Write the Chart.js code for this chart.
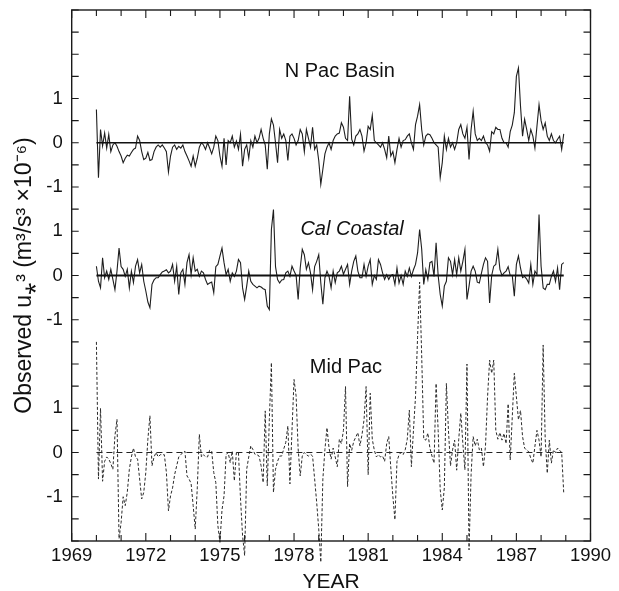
<!DOCTYPE html>
<html><head><meta charset="utf-8">
<script src="https://cdn.jsdelivr.net/npm/chart.js@4/dist/chart.umd.min.js"></script>
<style>html,body{margin:0;padding:0;background:#fff;}#wrap{width:619px;height:591px;}</style>
</head><body><div id="wrap"><canvas id="c" width="619" height="591"></canvas></div>
<script>
// ---------- DATA (monthly, Jan 1970 - Dec 1988) ----------
const startYear = 1970;
const nPacBasin = [
 0.75,-0.79,0.3,-0.07,0.22,-0.12,0.19,-0.2,-0.05,0.0,-0.08,-0.2,
 -0.3,-0.45,-0.35,-0.28,-0.3,-0.22,-0.15,-0.12,0.15,0.05,-0.2,-0.38,
 -0.35,-0.22,-0.4,-0.38,-0.2,-0.1,-0.05,-0.1,-0.05,-0.12,-0.2,-0.66,
 -0.3,-0.1,-0.05,-0.15,-0.08,-0.12,-0.05,-0.2,-0.3,-0.41,-0.53,-0.3,
 -0.53,-0.35,-0.1,0.0,-0.05,-0.15,0.0,-0.12,-0.25,-0.1,0.15,0.05,
 -0.3,-0.53,0.1,-0.5,0.05,0.0,0.15,-0.1,0.04,-0.15,0.19,-0.53,
 -0.15,-0.05,-0.35,0.05,-0.1,0.15,0.0,0.1,0.3,0.1,-0.05,-0.6,
 0.2,0.54,0.4,0.0,-0.45,0.3,0.1,0.2,0.05,-0.4,0.15,0.2,
 0.1,-0.05,0.05,0.3,0.2,-0.2,0.3,0.1,-0.1,0.35,-0.15,-0.05,
 -0.4,-0.94,-0.6,-0.25,-0.1,0.0,-0.15,0.05,0.15,0.2,0.22,0.45,
 0.35,0.1,0.05,1.05,0.08,-0.05,0.15,0.2,0.3,0.15,-0.19,0.0,
 0.37,0.3,0.62,0.05,0.0,-0.05,-0.1,0.0,-0.15,-0.34,0.15,-0.3,
 -0.2,-0.45,-0.15,0.1,-0.1,0.05,0.07,0.15,0.2,0.0,-0.15,0.41,
 0.6,0.86,0.3,-0.05,0.15,0.2,0.18,0.1,0.0,-0.05,-0.1,-0.79,
 -0.45,0.15,-0.15,0.1,-0.1,0.0,-0.15,0.0,0.3,0.41,0.2,0.1,
 0.35,-0.38,0.3,0.71,0.2,0.05,0.1,0.05,0.15,0.0,-0.05,-0.19,
 0.25,0.2,0.35,0.3,0.3,0.1,0.0,0.0,-0.1,0.25,0.4,0.68,
 1.5,1.69,0.83,0.15,0.53,0.3,0.05,0.3,0.15,-0.12,0.38,0.86,
 0.5,0.3,0.45,0.15,0.05,0.2,0.05,0.0,0.08,0.15,-0.15,0.2
];
const calCoastal = [
 0.21,-0.13,-0.28,0.4,-0.05,0.1,-0.09,0.14,-0.09,-0.32,0.1,0.62,
 0.2,0.14,-0.02,0.14,-0.28,0.1,-0.16,0.21,0.36,0.06,0.25,-0.13,
 -0.35,-0.6,-0.73,-0.2,-0.1,-0.05,-0.05,0.02,0.08,0.1,0.13,0.06,
 0.1,0.25,-0.13,0.21,-0.43,0.06,0.14,-0.2,0.29,0.47,0.02,0.4,
 0.1,0.14,-0.02,0.1,0.06,-0.09,-0.2,-0.17,-0.15,-0.39,0.2,0.25,
 0.44,0.62,0.29,0.02,0.14,-0.13,0.06,-0.02,0.1,0.36,0.29,-0.28,
 -0.54,-0.24,0.1,-0.13,-0.2,-0.24,-0.28,-0.24,-0.26,-0.3,-0.32,-0.69,
 -0.77,1.04,1.49,0.2,-0.09,-0.17,-0.1,-0.09,0.06,0.1,-0.02,0.21,
 0.1,0.0,-0.54,0.17,0.59,0.47,0.14,0.29,0.06,-0.32,0.2,0.32,
 0.47,-0.17,-0.65,-0.05,0.1,-0.02,-0.28,0.1,-0.16,0.06,0.1,0.21,
 0.03,0.14,0.25,-0.2,0.1,0.32,0.44,0.1,-0.05,-0.05,0.25,-0.02,
 0.21,0.36,-0.2,0.0,-0.09,0.36,0.25,0.06,-0.09,0.02,-0.09,0.0,
 0.02,-0.2,0.17,-0.17,0.0,-0.2,0.1,-0.02,0.17,-0.02,0.13,0.25,
 0.51,1.04,0.6,-0.2,0.13,-0.09,0.29,0.32,-0.02,0.74,0.0,-0.43,
 -0.69,-0.24,-0.13,0.4,0.32,0.02,0.36,0.02,0.4,0.1,0.32,0.59,
 -0.54,-0.24,0.1,0.21,0.1,-0.15,-0.17,0.05,0.25,0.4,0.32,-0.62,
 0.0,0.21,0.25,0.59,0.14,0.0,0.06,0.1,0.2,0.0,0.0,-0.47,
 0.25,0.44,0.17,-0.05,-0.02,-0.08,-0.17,0.25,-0.2,0.1,0.02,1.38,
 0.21,-0.28,-0.32,-0.2,-0.2,-0.02,0.1,-0.13,0.17,-0.32,0.25,0.29
];
const midPac = [
 2.5,-0.6,1.0,-0.65,-0.2,-0.1,-0.15,-0.25,-0.38,0.38,0.75,-1.95,
 -1.58,-1.0,-1.2,-0.9,-0.38,-0.1,0.1,-0.1,-0.15,-0.6,-1.05,-0.9,
 -0.45,0.3,0.83,-0.3,-0.1,0.0,-0.1,-0.05,-0.05,-0.05,-0.45,-1.32,
 -0.98,-0.8,-0.5,-0.3,-0.1,-0.05,0.0,0.03,-0.53,-0.6,-0.7,-1.2,
 -1.73,-0.8,0.41,-0.1,-0.05,-0.1,-0.1,0.05,0.03,-0.45,-0.68,-1.65,
 -2.03,-1.3,-0.98,-0.05,0.0,-0.23,0.03,-0.64,0.0,0.0,-1.05,-1.88,
 -2.33,-0.38,-0.1,0.15,0.07,-0.04,-0.05,-0.08,-0.3,-0.68,0.94,-0.75,
 0.75,2.03,-0.9,-0.38,-0.2,-0.08,-0.08,0.08,0.23,0.6,-0.71,0.5,
 1.65,1.28,0.08,-0.53,-0.08,0.0,-0.05,-0.08,-0.04,-0.08,-0.6,-1.13,
 -1.73,-2.48,-0.6,0.07,0.56,0.1,-0.15,0.1,-0.1,-0.32,0.3,0.2,
 0.5,1.49,-0.77,0.2,0.05,0.25,0.35,0.45,0.15,0.4,0.74,1.49,
 -0.5,1.34,0.3,0.05,-0.1,-0.05,-0.1,-0.08,-0.2,0.2,0.36,-0.35,
 -0.99,-1.52,-0.2,-0.05,0.0,-0.05,0.06,0.3,0.96,-0.32,0.5,1.26,
 2.6,3.85,2.2,0.3,0.28,0.44,0.1,-0.08,-0.24,1.56,0.5,-0.84,
 -1.3,-0.8,1.56,0.5,-0.3,0.06,0.28,-0.4,0.3,0.89,0.2,-0.39,
 2.0,-2.2,-0.5,0.36,0.15,0.3,0.06,0.1,-0.32,0.15,1.26,2.09,
 1.79,2.09,0.5,0.3,0.45,0.28,0.43,0.2,1.1,-0.17,0.8,1.79,
 1.26,0.74,0.95,0.36,0.1,0.05,0.02,-0.13,-0.24,0.14,0.5,0.28,
 -0.1,2.43,0.3,-0.47,0.28,-0.24,0.06,0.0,0.1,0.05,0.0,-0.92
];
const panelNames = ['N Pac Basin', 'Cal Coastal', 'Mid Pac'];
const panelBaselines = [7, 4, 0];          // zero of each panel on the shared y axis
const xTickLabels = ['1969','1972','1975','1978','1981','1984','1987','1990'];
const yTickLabels = ['-1','0','1'];
const xTitle = 'YEAR';
const yTitle = 'Observed u\u204E\u00B3 (m\u00B3/s\u00B3 \u00D710\u207B\u2076)';

// ---------- presentation ----------
const labelAnchors = [[1979.85, 8.62], [1980.35, 5.04], [1980.1, 1.93]]; // (year, shared-axis value)
const labelItalic = [false, true, false];
const FONT = '"Liberation Sans", Arial, sans-serif';

function toPoints(arr, base) {
  return arr.map((v, i) => ({x: startYear + i / 12, y: v + base}));
}
function zeroLine(base, n) {
  return [{x: startYear, y: base}, {x: startYear + (n - 1) / 12, y: base}];
}

const frameTicks = {
  id: 'frameTicks',
  afterDraw(chart) {
    const {ctx, chartArea: a, scales: {x, y}} = chart;
    ctx.save();
    ctx.strokeStyle = '#1a1a1a';
    ctx.lineWidth = 1.4;
    ctx.strokeRect(a.left, a.top, a.right - a.left, a.bottom - a.top);
    ctx.lineWidth = 1.1;
    ctx.beginPath();
    x.ticks.forEach(t => {
      const px = x.getPixelForValue(t.value);
      const len = xTickLabels.includes(String(t.value)) ? 8 : 6;
      ctx.moveTo(px, a.bottom); ctx.lineTo(px, a.bottom - len);
      ctx.moveTo(px, a.top); ctx.lineTo(px, a.top + len);
    });
    y.ticks.forEach(t => {
      const py = y.getPixelForValue(t.value);
      ctx.moveTo(a.left, py); ctx.lineTo(a.left + 7, py);
      ctx.moveTo(a.right, py); ctx.lineTo(a.right - 7, py);
    });
    ctx.stroke();
    ctx.fillStyle = '#111';
    ctx.textAlign = 'center';
    ctx.textBaseline = 'middle';
    panelNames.forEach((n, i) => {
      ctx.font = (labelItalic[i] ? 'italic ' : '') + '20px ' + FONT;
      ctx.fillText(n, x.getPixelForValue(labelAnchors[i][0]), y.getPixelForValue(labelAnchors[i][1]));
    });
    ctx.restore();
  }
};

const lineColor = '#1e1e1e';
const datasets = [
  {data: zeroLine(panelBaselines[0], nPacBasin.length), borderColor: '#111', borderWidth: 1.5},
  {data: zeroLine(panelBaselines[1], calCoastal.length), borderColor: '#111', borderWidth: 2},
  {data: zeroLine(panelBaselines[2], midPac.length), borderColor: '#222', borderWidth: 1.2, borderDash: [6, 4]},
  {label: panelNames[0], data: toPoints(nPacBasin, panelBaselines[0]), borderColor: lineColor, borderWidth: 1.1},
  {label: panelNames[1], data: toPoints(calCoastal, panelBaselines[1]), borderColor: lineColor, borderWidth: 1.1},
  {label: panelNames[2], data: toPoints(midPac, panelBaselines[2]), borderColor: '#2a2a2a', borderWidth: 1, borderDash: [3, 2]}
].map(d => Object.assign({pointRadius: 0, tension: 0, fill: false, clip: false}, d));

new Chart(document.getElementById('c'), {
  type: 'line',
  data: {datasets},
  plugins: [frameTicks],
  options: {
    responsive: false,
    devicePixelRatio: 1,
    animation: false,
    events: [],
    layout: {padding: {top: 10, right: 28.5, left: 0, bottom: 0}},
    plugins: {legend: {display: false}, tooltip: {enabled: false}},
    scales: {
      x: {
        type: 'linear', min: 1969, max: 1990,
        afterFit(s) { s.height = 50; },
        border: {display: false},
        grid: {display: false, drawTicks: false},
        ticks: {
          stepSize: 1, autoSkip: false, maxRotation: 0, padding: 4, color: '#111',
          font: {family: FONT, size: 18.5},
          callback: v => xTickLabels.includes(String(v)) ? String(v) : ''
        },
        title: {display: true, text: xTitle, color: '#111', padding: {top: 0, bottom: 0},
          font: {family: FONT, size: 21, lineHeight: 0.8}}
      },
      y: {
        type: 'linear', min: -2, max: 10,
        afterFit(s) { s.width = 71.7; },
        border: {display: false},
        grid: {display: false, drawTicks: false},
        ticks: {
          stepSize: 0.5, autoSkip: false, padding: 9, color: '#111',
          font: {family: FONT, size: 18.5, lineHeight: 0.1},
          callback: v => {
            if (!Number.isInteger(v)) return '';
            for (const b of panelBaselines) {
              const s = String(v - b);
              if (v - b >= -1 && v - b <= 1 && yTickLabels.includes(s)) return s;
            }
            return '';
          }
        },
        title: {display: true, text: yTitle, color: '#111', padding: {top: 11, bottom: 0},
          font: {family: FONT, size: 23}}
      }
    }
  }
});
</script>
</body></html>
